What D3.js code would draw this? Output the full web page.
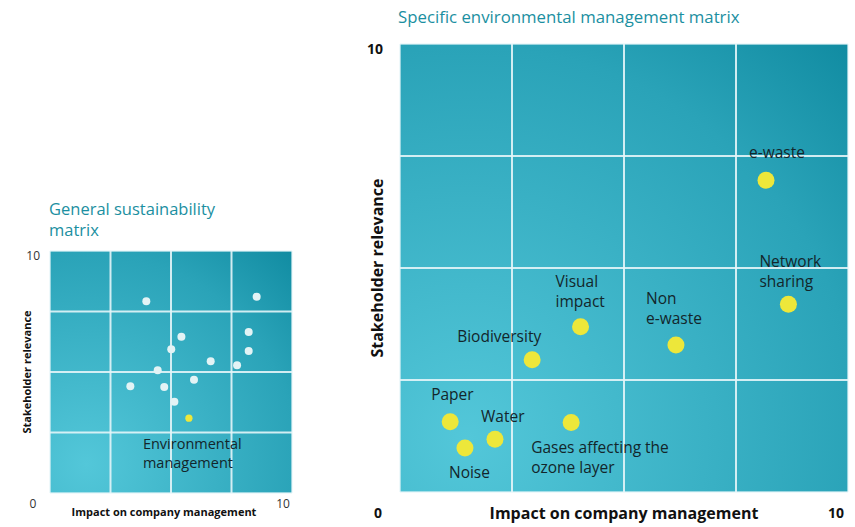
<!DOCTYPE html>
<html>
<head>
<meta charset="utf-8">
<script src="https://cdn.jsdelivr.net/npm/d3@7"></script>
<style>
  body { margin: 0; background: #fff; }
  svg { display: block; font-family: "Open Sans", sans-serif; }
</style>
</head>
<body>
<svg width="855" height="527"></svg>
<script>
// ****** Data ******
// General sustainability matrix (white dots)
var genImpact    = [3.98, 8.54, 5.43, 5.01, 8.21, 8.21, 6.64, 7.73, 4.45, 3.32, 4.72, 5.95, 5.14];
var genRelevance = [7.92, 8.11, 6.46, 5.94, 6.65, 5.87, 5.44, 5.28, 5.07, 4.41, 4.38, 4.68, 3.77];
// the highlighted topic
var envName = ["Environmental", "management"];
var envImpact = 5.74, envRelevance = 3.09;

// Specific environmental management matrix
var topics    = [["e-waste"], ["Network", "sharing"], ["Visual", "impact"], ["Non", "e-waste"],
                 ["Biodiversity"], ["Paper"], ["Gases affecting the", "ozone layer"], ["Water"], ["Noise"]];
var impact    = [8.17, 8.67, 4.03, 6.16, 2.95, 1.12, 3.82, 2.12, 1.45];
var relevance = [6.96, 4.19, 3.69, 3.28, 2.95, 1.57, 1.55, 1.18, 0.98];

var gridTicks = [0, 2.5, 5, 7.5, 10];
var axisMin = "0", axisMax = "10";

// label placement (px, relative to the dot)
var labelDx = [-17, -29, -25, -30, -75, -19, -40, -14, -16];
var labelDy = [-28, -43, -45, -46, -23, -27, 25, -23, 24];

var svg = d3.select("svg");
var defs = svg.append("defs");

function makeGradient(id) {
    var grad = defs.append("radialGradient")
        .attr("id", id)
        .attr("cx", "15%").attr("cy", "88%").attr("r", "125%");
    grad.append("stop").attr("offset", "0%").attr("stop-color", "#53c7d9");
    grad.append("stop").attr("offset", "70%").attr("stop-color", "#2aa3b8");
    grad.append("stop").attr("offset", "100%").attr("stop-color", "#0f8aa0");
}

function drawPanel(left, top, size, gid) {
    makeGradient(gid);
    var x = d3.scaleLinear().domain([0, 10]).range([left, left + size]);
    var y = d3.scaleLinear().domain([0, 10]).range([top + size, top]);

    var g = svg.append("g");
    g.append("rect")
        .attr("x", left).attr("y", top)
        .attr("width", size).attr("height", size)
        .attr("fill", "url(#" + gid + ")");

    // grid
    g.append("g").selectAll("line.v")
        .data(gridTicks)
        .join("line")
          .attr("x1", d => x(d)).attr("x2", d => x(d))
          .attr("y1", top).attr("y2", top + size)
          .attr("stroke", "#e4f5f8")
          .attr("stroke-opacity", d => (d == 0 || d == 10) ? 0.6 : 0.9)
          .attr("stroke-width", 2);
    g.append("g").selectAll("line.h")
        .data(gridTicks)
        .join("line")
          .attr("y1", d => y(d)).attr("y2", d => y(d))
          .attr("x1", left).attr("x2", left + size)
          .attr("stroke", "#e4f5f8")
          .attr("stroke-opacity", d => (d == 0 || d == 10) ? 0.6 : 0.9)
          .attr("stroke-width", 2);
    return {x: x, y: y, g: g};
}

// ****** Left: general sustainability matrix ******
var L = drawPanel(50, 251, 242, "gradL");

L.g.append("g").selectAll("circle")
    .data(d3.range(genImpact.length))
    .join("circle")
      .attr("cx", i => L.x(genImpact[i]))
      .attr("cy", i => L.y(genRelevance[i]))
      .attr("r", 4)
      .attr("fill", "#e3f3f5");

L.g.append("circle")
    .attr("cx", L.x(envImpact)).attr("cy", L.y(envRelevance))
    .attr("r", 3.6).attr("fill", "#ede73a");

L.g.append("text")
    .attr("x", L.x(envImpact) - 46)
    .attr("y", L.y(envRelevance) + 26)
    .attr("font-size", 14.5)
    .attr("fill", "#13262b")
    .selectAll("tspan")
    .data(envName)
    .join("tspan")
      .attr("x", L.x(envImpact) - 46)
      .attr("dy", (d, i) => i == 0 ? "0.35em" : 19)
      .text(d => d);

svg.append("g")
    .attr("fill", "#1b8fa1")
    .attr("font-size", 16.5)
    .selectAll("text")
    .data(["General sustainability", "matrix"])
    .join("text")
      .attr("x", 49)
      .attr("y", (d, i) => 215 + i * 21)
      .text(d => d);

var leftAxis = svg.append("g").attr("font-size", 12).attr("fill", "#333");
leftAxis.append("text").attr("x", 40).attr("y", 260).attr("text-anchor", "end").text(axisMax);
leftAxis.append("text").attr("x", 33).attr("y", 508).attr("text-anchor", "middle").text(axisMin);
leftAxis.append("text").attr("x", 283).attr("y", 508).attr("text-anchor", "middle").text(axisMax);
leftAxis.append("text").attr("x", 164).attr("y", 516).attr("text-anchor", "middle")
    .attr("font-weight", "bold").attr("font-size", 11).attr("fill", "#111")
    .text("Impact on company management");
leftAxis.append("text")
    .attr("transform", "translate(31,372) rotate(-90)")
    .attr("text-anchor", "middle")
    .attr("font-weight", "bold").attr("font-size", 11).attr("fill", "#111")
    .text("Stakeholder relevance");

// ****** Right: specific environmental management matrix ******
var R = drawPanel(400, 44, 448, "gradR");

var dots = R.g.append("g").selectAll("g")
    .data(d3.range(topics.length))
    .join("g")
      .attr("transform", i => `translate(${R.x(impact[i])},${R.y(relevance[i])})`);

dots.append("circle")
    .attr("r", 8.5)
    .attr("fill", "#ede73a");

dots.append("text")
    .attr("font-size", 15.5)
    .attr("fill", "#13262b")
    .selectAll("tspan")
    .data(i => topics[i].map(t => ({t: t, i: i})))
    .join("tspan")
      .attr("x", d => labelDx[d.i])
      .attr("y", (d, k) => labelDy[d.i] + k * 20)
      .attr("dy", "0.35em")
      .text(d => d.t);

svg.append("text")
    .attr("x", 398).attr("y", 23)
    .attr("font-size", 16.8)
    .attr("fill", "#1b8fa1")
    .text("Specific environmental management matrix");

var rightAxis = svg.append("g").attr("font-size", 14).attr("font-weight", "bold").attr("fill", "#111");
rightAxis.append("text").attr("x", 375).attr("y", 54).attr("text-anchor", "middle").text(axisMax);
rightAxis.append("text").attr("x", 378).attr("y", 518).attr("text-anchor", "middle").text(axisMin);
rightAxis.append("text").attr("x", 836).attr("y", 518).attr("text-anchor", "middle").text(axisMax);
rightAxis.append("text").attr("x", 624).attr("y", 519).attr("text-anchor", "middle")
    .attr("font-size", 16)
    .text("Impact on company management");
rightAxis.append("text")
    .attr("transform", "translate(383,268) rotate(-90)")
    .attr("text-anchor", "middle")
    .attr("font-size", 16)
    .text("Stakeholder relevance");
</script>
</body>
</html>
